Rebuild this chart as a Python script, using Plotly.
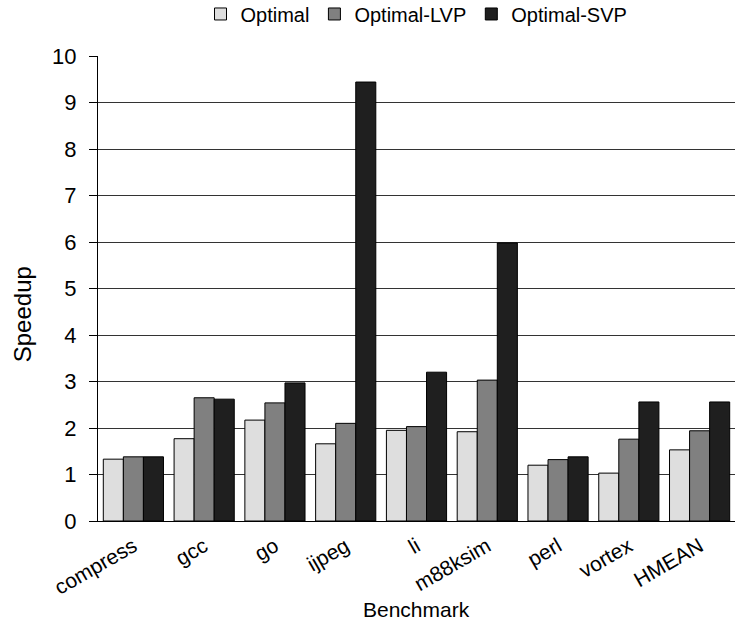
import plotly.graph_objects as go

benchmarks = ["compress", "gcc", "go", "ijpeg", "li", "m88ksim", "perl", "vortex", "HMEAN"]
optimal = [1.33, 1.77, 2.17, 1.66, 1.95, 1.92, 1.20, 1.03, 1.53]
optimal_lvp = [1.38, 2.65, 2.54, 2.10, 2.03, 3.03, 1.32, 1.76, 1.94]
optimal_svp = [1.38, 2.62, 2.97, 9.44, 3.20, 5.98, 1.38, 2.56, 2.56]

series = [
    ("Optimal", optimal, "#dedede"),
    ("Optimal-LVP", optimal_lvp, "#808080"),
    ("Optimal-SVP", optimal_svp, "#1f1f1f"),
]

fig = go.Figure()
for name, vals, color in series:
    fig.add_trace(go.Bar(
        x=benchmarks, y=vals, name=name,
        marker=dict(color=color, line=dict(color="#000000", width=1)),
    ))

font_family = "Liberation Sans, Arial, sans-serif"
fig.update_layout(
    width=742, height=635,
    margin=dict(l=98, r=7, t=56, b=114, autoexpand=False),
    paper_bgcolor="white", plot_bgcolor="white",
    barmode="group", bargap=0.15, bargroupgap=0.0,
    font=dict(family=font_family, color="#000000"),
    legend=dict(
        orientation="h", x=0.5, xanchor="center",
        yref="container", y=0.978, yanchor="middle",
        font=dict(size=20), itemwidth=30, tracegroupgap=0,
    ),
    xaxis=dict(
        tickangle=-30, tickfont=dict(size=21), ticklabelstandoff=4,
        showline=True, linecolor="#000000", linewidth=1,
        ticks="", showgrid=False,
    ),
    yaxis=dict(
        range=[0, 10], dtick=1, tickfont=dict(size=22), ticklabelstandoff=8,
        showline=True, linecolor="#000000", linewidth=1,
        ticks="outside", ticklen=8, tickcolor="#000000",
        showgrid=True, gridcolor="#333333", gridwidth=1,
        zeroline=False,
    ),
    annotations=[
        dict(text="Benchmark", xref="paper", yref="paper", x=0.5, y=-0.19,
             xanchor="center", yanchor="middle", showarrow=False,
             font=dict(size=21)),
        dict(text="Speedup", xref="paper", yref="paper", x=-0.119, y=0.445,
             xanchor="center", yanchor="middle", showarrow=False, textangle=-90,
             font=dict(size=24)),
    ],
)

fig.write_html("out.html")
